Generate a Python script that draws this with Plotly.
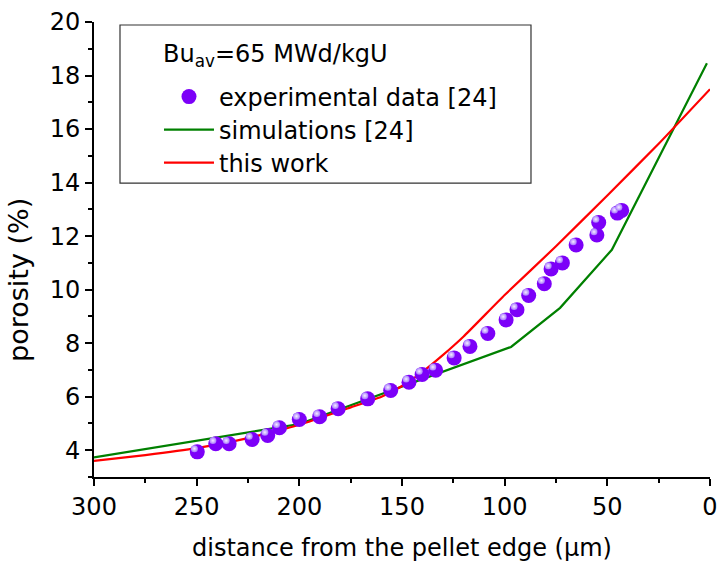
import plotly.graph_objects as go

# experimental data [24]
exp_x = [249.7, 240.7, 234.2, 223.0, 215.4, 209.7, 200.0, 190.1, 181.1, 166.7,
         155.5, 146.6, 140.2, 133.6, 124.6, 116.9, 108.2, 99.3, 94.0, 88.3,
         80.7, 77.4, 71.9, 65.2, 55.1, 54.2, 45.1, 43.0]
exp_y = [3.94, 4.24, 4.24, 4.40, 4.55, 4.84, 5.15, 5.25, 5.55, 5.92,
         6.23, 6.54, 6.83, 6.99, 7.45, 7.88, 8.36, 8.87, 9.25, 9.78,
         10.22, 10.77, 11.00, 11.67, 12.04, 12.51, 12.86, 12.96]

# simulations [24]
sim_x = [300, 200, 96.9, 73.0, 47.8, 1.5]
sim_y = [3.73, 4.98, 7.86, 9.32, 11.49, 18.46]

# this work
work_x = [300, 275, 250, 225, 200, 175, 160, 150, 140, 130, 120, 100, 75, 50, 25, 0]
work_y = [3.60, 3.82, 4.08, 4.45, 4.95, 5.60, 6.00, 6.40, 6.93, 7.56, 8.25, 9.80, 11.62, 13.52, 15.45, 17.49]

x_ticks = [300, 250, 200, 150, 100, 50, 0]
y_ticks = [4, 6, 8, 10, 12, 14, 16, 18, 20]

FONT = "DejaVu Sans, sans-serif"
PURPLE = "#7c00f8"

fig = go.Figure()
fig.add_trace(go.Scatter(x=sim_x, y=sim_y, mode="lines", name="simulations [24]",
                         legend="legend2",
                         line=dict(color="#008000", width=2.2)))
fig.add_trace(go.Scatter(x=work_x, y=work_y, mode="lines", name="this work",
                         legend="legend3",
                         line=dict(color="#ff0000", width=2.2, shape="spline", smoothing=0.4)))
fig.add_trace(go.Scatter(x=exp_x, y=exp_y, mode="markers", name="experimental data [24]",
                         legend="legend",
                         marker=dict(size=15, color=PURPLE, line=dict(width=0))))
# specular highlight on the spheres
fig.add_trace(go.Scatter(x=[v + 1.4 for v in exp_x], y=[v + 0.12 for v in exp_y],
                         mode="markers", showlegend=False, hoverinfo="skip",
                         marker=dict(size=7, color="#a878ff", line=dict(width=0),
                                     gradient=dict(type="radial", color="#f4eeff"))))

axis_common = dict(showline=True, linecolor="black", linewidth=2, showgrid=False,
                   zeroline=False, ticks="outside", ticklen=7, tickwidth=2,
                   tickcolor="black", mirror=False, ticklabeloverflow="allow",
                   tickfont=dict(family=FONT, size=24, color="black"))

def legend_at(y):
    return dict(x=0.1055, y=y, xanchor="left", yanchor="middle",
                bgcolor="rgba(0,0,0,0)", borderwidth=0, itemwidth=50,
                font=dict(family=FONT, size=24, color="black"))

fig.update_layout(
    width=717, height=567,
    margin=dict(l=94, r=7, t=22, b=90, autoexpand=False),
    paper_bgcolor="white", plot_bgcolor="white",
    font=dict(family=FONT, color="black"),
    xaxis=dict(range=[300, 0], tickvals=x_ticks, automargin=False,
               minor=dict(dtick=25, ticks="outside", ticklen=4, tickwidth=2, tickcolor="black"),
               **axis_common),
    yaxis=dict(range=[3, 20], tickvals=y_ticks, automargin=False,
               minor=dict(dtick=1, tick0=0, ticks="outside", ticklen=4, tickwidth=2, tickcolor="black"),
               **axis_common),
    legend=legend_at(0.8352),
    legend2=legend_at(0.7626),
    legend3=legend_at(0.6901),
    shapes=[dict(type="rect", xref="paper", yref="paper",
                 x0=0.0422, x1=0.7094, y0=0.646, y1=0.9934,
                 line=dict(color="#333333", width=1.2), fillcolor="rgba(0,0,0,0)")],
    annotations=[
        dict(text="Bu<sub>av</sub>=65 MWd/kgU", xref="paper", yref="paper",
             x=0.1088, y=0.9254, showarrow=False, xanchor="left", yanchor="middle",
             font=dict(family=FONT, size=24, color="black")),
        dict(text="porosity (%)", xref="paper", yref="paper", x=-0.1218, y=0.433,
             textangle=-90, showarrow=False, xanchor="center", yanchor="middle",
             font=dict(family=FONT, size=27, color="black")),
        dict(text="distance from the pellet edge (\u03bcm)", xref="paper", yref="paper",
             x=0.5, y=-0.156, showarrow=False, xanchor="center", yanchor="middle",
             font=dict(family=FONT, size=24, color="black")),
    ],
)

fig.write_html("out.html", config={"displayModeBar": False},
               post_script="document.body.style.margin='0';document.body.style.overflow='hidden';")
